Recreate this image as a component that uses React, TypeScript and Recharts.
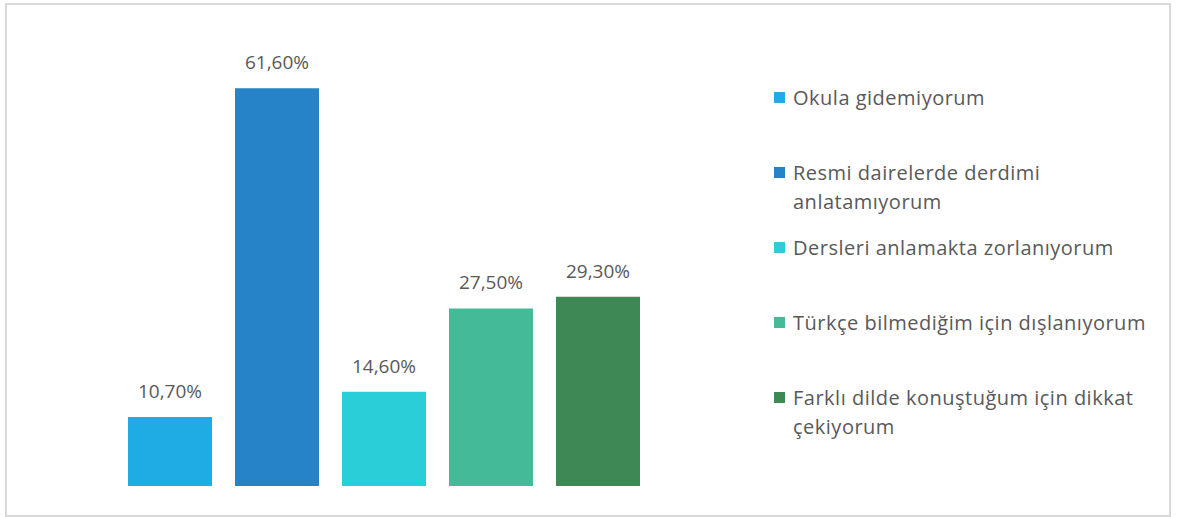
import React from "react";
import { BarChart, Bar, XAxis, YAxis, LabelList } from "recharts";

const seriesNames = [
  "Okula gidemiyorum",
  "Resmi dairelerde derdimi anlatamıyorum",
  "Dersleri anlamakta zorlanıyorum",
  "Türkçe bilmediğim için dışlanıyorum",
  "Farklı dilde konuştuğum için dikkat çekiyorum",
];
const seriesValues = [10.7, 61.6, 14.6, 27.5, 29.3];
const seriesColors = ["#1FACE4", "#2783C7", "#29CED8", "#44BA98", "#3E8855"];

const keys = seriesValues.map((_, i) => `s${i}`);
const data = [
  keys.reduce((row: any, k, i) => {
    row[k] = seriesValues[i];
    return row;
  }, { name: "all" }),
];

const FONT = "'Open Sans', Lato, sans-serif";
const TEXT = "#595959";

const fmt = (v: any) => `${Number(v).toFixed(2).replace(".", ",")}%`;

export default function App() {
  return (
    <div
      style={{
        position: "absolute",
        left: 0,
        top: 0,
        width: 1185,
        height: 517,
        background: "#fff",
        fontFamily: FONT,
      }}
    >
      <div
        style={{
          position: "absolute",
          left: 5,
          top: 3,
          width: 1166,
          height: 514,
          boxSizing: "border-box",
          border: "2px solid #d9d9d9",
        }}
      />
      <div style={{ position: "absolute", left: 0, top: 0 }}>
        <BarChart
          width={1185}
          height={517}
          data={data}
          margin={{ top: 34, right: 545, bottom: 31, left: 128 }}
          barCategoryGap={0}
          barGap={23}
        >
          <XAxis dataKey="name" hide />
          <YAxis hide domain={[0, 70]} />
          {keys.map((k, i) => (
            <Bar
              key={k}
              dataKey={k}
              name={seriesNames[i]}
              fill={seriesColors[i]}
              isAnimationActive={false}
            >
              <LabelList
                dataKey={k}
                position="top"
                offset={19}
                formatter={fmt}
                style={{ fontFamily: FONT, fontSize: 19, fill: TEXT }}
              />
            </Bar>
          ))}
        </BarChart>
      </div>
      {/* legend */}
      <div style={{ position: "absolute", left: 774, top: 83, width: 390 }}>
        {seriesNames.map((n, i) => (
          <div key={n} style={{ height: 75, display: "flex", alignItems: "flex-start" }}>
            <div
              style={{
                width: 11,
                height: 11,
                background: seriesColors[i],
                marginTop: 9,
                marginRight: 8,
                flex: "none",
              }}
            />
            <div
              style={{
                fontSize: 20,
                letterSpacing: 0.5,
                lineHeight: "29px",
                color: TEXT,
                width: 362,
              }}
            >
              {n}
            </div>
          </div>
        ))}
      </div>
    </div>
  );
}
